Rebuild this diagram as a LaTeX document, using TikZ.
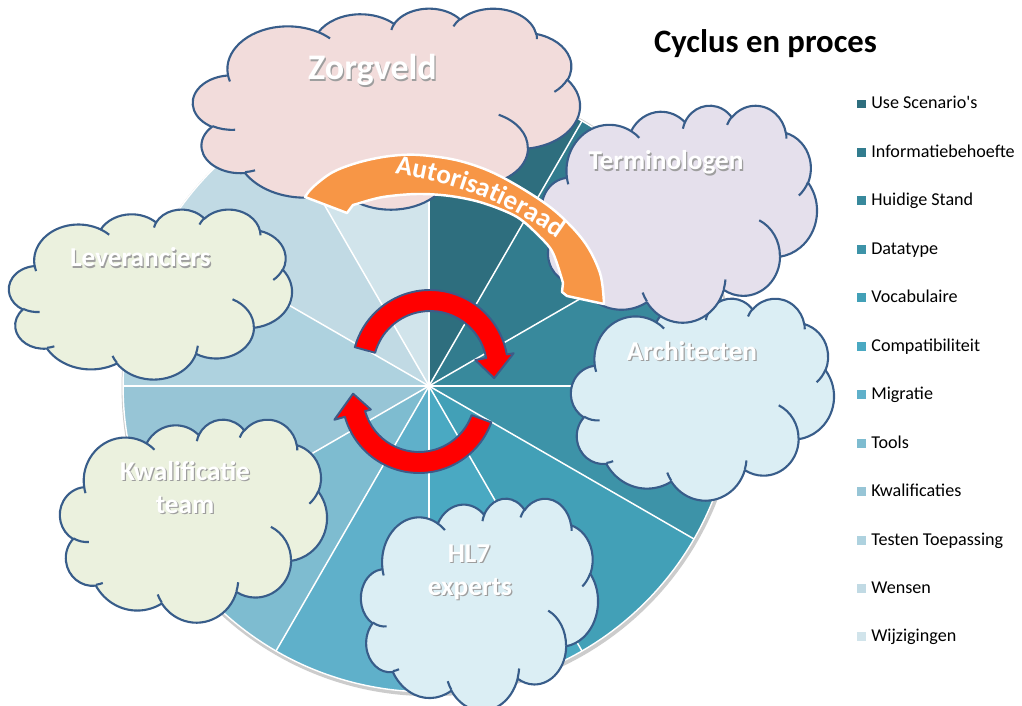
\documentclass[tikz,border=0pt]{standalone}
\usepackage{fontspec}
\setmainfont{Carlito}
\usetikzlibrary{decorations.text}

% pie slice colours, darkest first
\definecolor{slice1}{HTML}{2E6E7E}
\definecolor{slice2}{HTML}{327C8E}
\definecolor{slice3}{HTML}{38899C}
\definecolor{slice4}{HTML}{3D93A8}
\definecolor{slice5}{HTML}{42A0B7}
\definecolor{slice6}{HTML}{4AA9C2}
\definecolor{slice7}{HTML}{5FB0CA}
\definecolor{slice8}{HTML}{7EBCD0}
\definecolor{slice9}{HTML}{97C5D6}
\definecolor{slice10}{HTML}{AED2DF}
\definecolor{slice11}{HTML}{C1DAE4}
\definecolor{slice12}{HTML}{D1E4EB}
\definecolor{cloudline}{HTML}{385D8A}
\definecolor{pinkfill}{HTML}{F2DCDB}
\definecolor{lilacfill}{HTML}{E5E0EC}
\definecolor{bluefill}{HTML}{DBEEF4}
\definecolor{greenfill}{HTML}{EBF1DE}
\definecolor{bandorange}{HTML}{F79646}
\definecolor{arrowred}{HTML}{FF0000}
\definecolor{arrowedge}{HTML}{3E5A88}

\tikzset{
  cloudedge/.style={draw=cloudline, line width=1.2pt, line join=round},
  cloudlabel/.style={text=white, inner sep=0pt, anchor=base,
    font=\bfseries\fontsize{15.5}{18}\selectfont},
  bigcloudlabel/.style={cloudlabel, font=\bfseries\fontsize{20.5}{24}\selectfont},
  redarrow/.style={fill=arrowred, draw=arrowedge, line width=1.1pt, line join=round},
  legbox/.style={minimum size=0.18cm, inner sep=0pt, draw=none},
  legtext/.style={inner sep=0pt, anchor=base west, font=\fontsize{10.3}{12}\selectfont},
}

% white lettering with a soft grey drop shadow
\newcommand\softtext[1]{\makebox[0pt][l]{\kern0.7pt\raisebox{-0.7pt}{\textcolor{black!38}{#1}}}#1}

% cloud outline in a unit box (y pointing down), placed at #1,#2 with scales #3,#4
\newcommand\cloudshape[5]{%
  \begin{scope}[shift={(#1,#2)}, x=1cm, y=1cm, xscale=#3, yscale=#4]
    \filldraw[cloudedge, fill=#5]
      (0.09028,0.33264)
      arc[start angle=172.26, end angle=300.37, x radius=0.15632, y radius=0.21273]
      arc[start angle=-152.03, end angle=-45.46, x radius=0.12345, y radius=0.16822]
      arc[start angle=-153.50, end angle=-37.32, x radius=0.10104, y radius=0.13762]
      arc[start angle=-139.69, end angle=-10.21, x radius=0.11243, y radius=0.15266]
      arc[start angle=-74.77, end angle=23.21, x radius=0.12345, y radius=0.16836]
      arc[start angle=-37.52, end angle=81.86, x radius=0.15683, y radius=0.21343]
      arc[start angle=0.46, end angle=121.98, x radius=0.13391, y radius=0.18211]
      arc[start angle=16.84, end angle=146.22, x radius=0.15630, y radius=0.21331]
      arc[start angle=58.99, end angle=150.18, x radius=0.17870, y radius=0.24405]
      arc[start angle=83.31, end angle=223.11, x radius=0.10093, y radius=0.13699]
      arc[start angle=120.35, end angle=264.11, x radius=0.10058, y radius=0.13762]
      -- cycle;
    \draw[cloudedge]
      (0.10863,0.60595) arc[start angle=85.55, end angle=120.35, x radius=0.10058, y radius=0.13762]
      (0.16037,0.80785) arc[start angle=68.24, end angle=83.31, x radius=0.10093, y radius=0.13699]
      (0.38144,0.90486) arc[start angle=146.22, end angle=158.47, x radius=0.15630, y radius=0.21331]
      (0.66729,0.80442) arc[start angle=4.74, end angle=16.84, x radius=0.15630, y radius=0.21331]
      (0.79002,0.53134) arc[start angle=-64.03, end angle=0.46, x radius=0.13391, y radius=0.18211]
      (0.96755,0.35542) arc[start angle=23.21, end angle=49.64, x radius=0.12345, y radius=0.16836]
      (0.88713,0.12560) arc[start angle=-10.21, end angle=0.82, x radius=0.11243, y radius=0.15266]
      (0.67310,0.09148) arc[start angle=-156.30, end angle=-139.69, x radius=0.11243, y radius=0.15266]
      (0.51252,0.10926) arc[start angle=-167.73, end angle=-153.50, x radius=0.10104, y radius=0.13762]
      (0.32407,0.12019) arc[start angle=-59.63, end angle=-45.74, x radius=0.15632, y radius=0.21273]
      (0.09553,0.36549) arc[start angle=163.20, end angle=172.26, x radius=0.15632, y radius=0.21273];
  \end{scope}}

\begin{document}
\begin{tikzpicture}[x=0.02cm, y=-0.02cm]
\useasboundingbox (0,0) rectangle (1022,706);
\fill[white] (0,0) rectangle (1022,706);

% ---- pie with twelve equal slices, clockwise from the top ----
\begin{scope}[shift={(429,386)}]
  \fill[black!20] (0.02cm,-0.035cm) circle[radius=6.17cm];
  \foreach \i in {1,...,12} {
    \pgfmathsetmacro\sa{90-30*(\i-1)}
    \pgfmathsetmacro\sb{\sa-30}
    \fill[slice\i] (0,0) -- (\sa:6.12cm) arc[start angle=\sa, end angle=\sb, radius=6.12cm] -- cycle;
  }
  \foreach \i in {0,...,11} {
    \pgfmathsetmacro\sa{90-30*\i}
    \draw[white, line width=0.85pt] (0,0) -- (\sa:6.12cm);
  }
  \draw[white, line width=0.8pt] (0,0) circle[radius=6.12cm];
\end{scope}

% ---- clouds ----
\cloudshape{571}{298}{5.26}{-4.04}{bluefill}
\node[cloudlabel] (architecten) at (692,360) {\softtext{Architecten}};

\cloudshape{542}{105}{5.50}{-4.34}{lilacfill}
\node[cloudlabel] (terminologen) at (666,170) {\softtext{Terminologen}};

\cloudshape{193}{8}{7.74}{-4.02}{pinkfill}
\node[bigcloudlabel] (zorgveld) at (372.5,80) {\softtext{Zorgveld}};

\cloudshape{9}{209}{5.66}{-3.40}{greenfill}
\node[cloudlabel] (leveranciers) at (140.5,267) {\softtext{Leveranciers}};

\cloudshape{60}{419}{5.34}{-4.06}{greenfill}
\node[cloudlabel] (kwalificatie) at (185,480) {\softtext{Kwalificatie}};
\node[cloudlabel] (team) at (185,513) {\softtext{team}};

\cloudshape{361}{498}{4.74}{-4.24}{bluefill}
\node[cloudlabel] (hl7) at (469,562) {\softtext{HL7}};
\node[cloudlabel] (experts) at (470,595) {\softtext{experts}};

% ---- orange band with its lettering ----
\filldraw[fill=bandorange, draw=white, line width=1.4pt, line join=round]
  plot[smooth, tension=0.55] coordinates {(305,197) (313,187) (333,172) (360,162) (390,156) (420,155) (460,161) (500,176) (550,207) (583,240) (600,273) (604,304)}
  -- (567,296) -- (562,292)
  -- plot[smooth, tension=0.55] coordinates {(563,283) (553,253) (540,237) (517,217) (483,203) (450,196) (417,194) (383,197) (360,203)}
  -- (353,205) -- (347,213) -- cycle;
\begin{scope}[shift={(345,535)}]
  \path[decorate, decoration={text along path, text align=center,
      text={|\color{white}\bfseries\fontsize{15.5}{16}\selectfont|Autorisatieraad}}]
    (100:7.3cm) arc[start angle=100, end angle=36.5, radius=7.3cm];
\end{scope}

% ---- red cycle arrows ----
\begin{scope}[shift={(430,368)}]
  \filldraw[redarrow] (164.5:1.56cm) arc[start angle=164.5, end angle=10, radius=1.56cm]
    -- (10:1.70cm) -- (-9:1.30cm) -- (10:0.92cm) -- (10:1.14cm)
    arc[start angle=10, end angle=164.5, radius=1.14cm] -- cycle;
\end{scope}
\begin{scope}[shift={(419,396)}]
  \filldraw[redarrow] (-20:1.54cm) arc[start angle=-20, end angle=-164.3, radius=1.54cm]
    -- (-164.3:1.76cm) -- (-182:1.32cm) -- (-164.3:1.0cm) -- (-164.3:1.12cm)
    arc[start angle=-164.3, end angle=-20, radius=1.12cm] -- cycle;
\end{scope}

% ---- title and legend ----
\node[anchor=base, inner sep=0pt, font=\bfseries\fontsize{18.6}{22}\selectfont] (title) at (765.5,53) {Cyclus en proces};

\foreach \i/\t in {1/Use Scenario\textquotesingle s, 2/Informatiebehoefte, 3/Huidige Stand,
    4/Datatype, 5/Vocabulaire, 6/Compatibiliteit, 7/Migratie, 8/Tools,
    9/Kwalificaties, 10/Testen Toepassing, 11/Wensen, 12/Wijzigingen} {
  \pgfmathsetmacro\yy{104+48.45*(\i-1)}
  \node[legbox, fill=slice\i] (key\i) at (861.5,\yy) {};
  \node[legtext] (entry\i) at (871,\yy+5) {\t};
}
\end{tikzpicture}
\end{document}
